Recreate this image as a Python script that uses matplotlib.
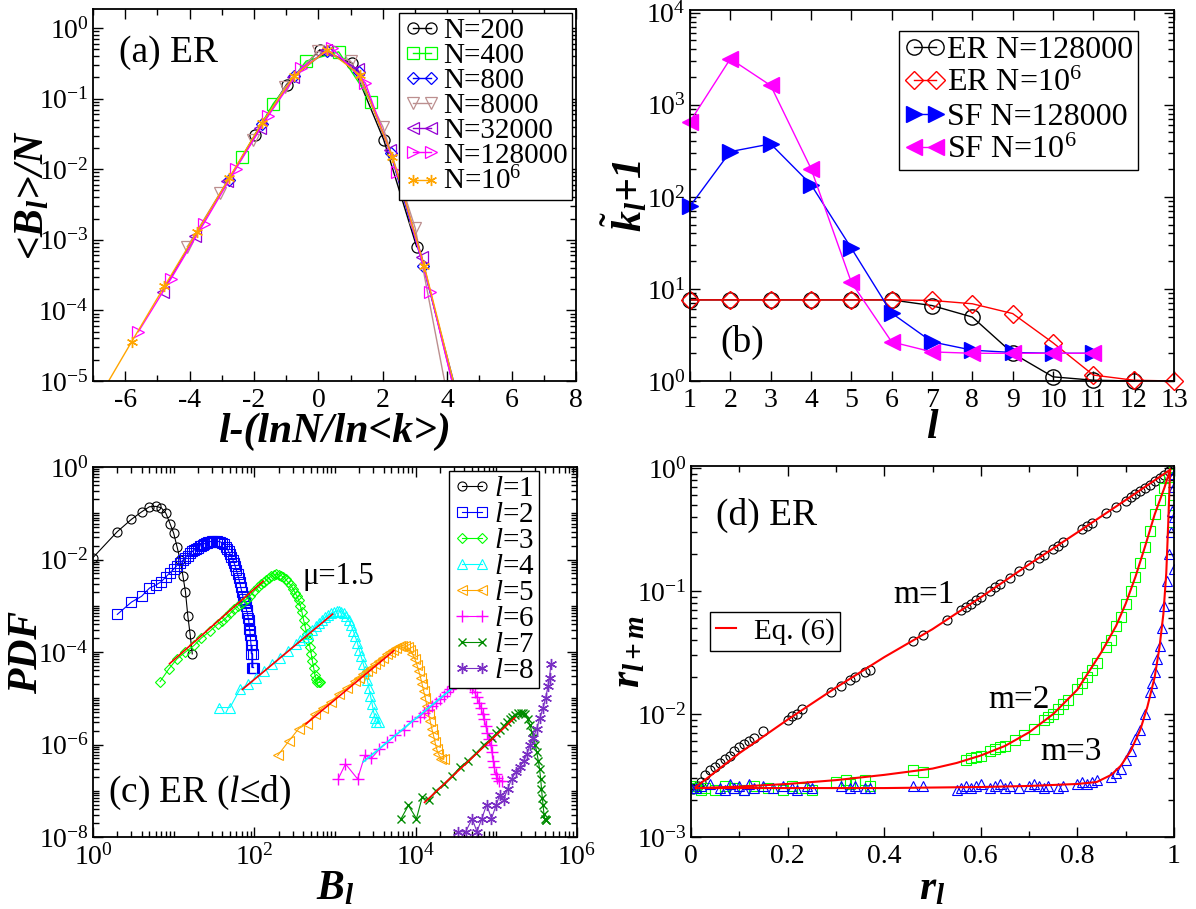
import numpy as np
import matplotlib
matplotlib.use("Agg")
import matplotlib.pyplot as plt
from matplotlib import font_manager as fm
from matplotlib.ticker import FixedLocator, FuncFormatter, MultipleLocator, NullFormatter

# pick a Times-like serif that is actually installed
have = {f.name for f in fm.fontManager.ttflist}
SERIF = 'DejaVu Serif'
for cand in ['Liberation Serif', 'Tinos', 'Times New Roman', 'Nimbus Roman', 'TeX Gyre Termes',
             'STIX Two Text', 'Noto Serif']:
    if cand in have:
        SERIF = cand
        break

plt.rcParams['font.family'] = SERIF
plt.rcParams['mathtext.fontset'] = 'custom'
plt.rcParams['mathtext.rm'] = SERIF
plt.rcParams['mathtext.it'] = SERIF + ':italic'
plt.rcParams['mathtext.bf'] = SERIF + ':bold'
try:
    plt.rcParams['mathtext.bfit'] = SERIF + ':bold:italic'
except KeyError:
    pass
plt.rcParams['axes.unicode_minus'] = False

# ---------------- data: panel (a) ----------------
x_N200 = [-1.97, -0.99, 0.04, 1.04, 2.03, 3.05]
y_N200 = [3.1e-2, 1.58e-1, 4.9e-1, 3.2e-1, 2.6e-2, 8.0e-4]
x_N400 = [-2.37, -1.40, -0.38, 0.63, 1.64]
y_N400 = [1.5e-2, 8.5e-2, 3.4e-1, 4.6e-1, 9.1e-2]
x_N800 = [-2.79, -1.76, -0.75, 0.26, 1.26, 2.24, 3.25, 4.25]
y_N800 = [7.0e-3, 4.4e-2, 2.1e-1, 4.8e-1, 2.4e-1, 1.7e-2, 4.3e-4, 8.0e-6]
x_N8000 = [-4.07, -3.05, -2.03, -1.04, -0.02, 1.00, 2.00, 3.01, 4.01]
y_N8000 = [8.0e-4, 4.6e-3, 2.6e-2, 1.45e-1, 4.7e-1, 3.4e-1, 4.0e-2, 1.45e-3, 6.0e-6]
x_N32000 = [-4.84, -3.83, -2.83, -1.82, -0.78, 0.24, 1.22, 2.21, 3.21, 4.21]
y_N32000 = [1.85e-4, 1.14e-3, 6.7e-3, 3.8e-2, 2.0e-1, 4.9e-1, 2.6e-1, 1.9e-2, 5.8e-4, 7.8e-6]
x_N128000 = [-5.59, -4.58, -3.56, -2.57, -1.56, -0.54, 0.42, 1.46, 2.45, 3.47, 4.47]
y_N128000 = [5.0e-5, 2.8e-4, 1.7e-3, 1.0e-2, 5.7e-2, 2.7e-1, 5.2e-1, 1.66e-1, 9.0e-3, 1.85e-4, 2.5e-6]
x_N1e6 = [-6.80, -5.80, -4.78, -3.77, -2.78, -1.76, -0.75, 0.28, 1.28, 2.30, 3.29, 4.29]
y_N1e6 = [6.0e-6, 3.6e-5, 2.2e-4, 1.29e-3, 7.4e-3, 4.5e-2, 2.11e-1, 4.9e-1, 2.18e-1, 1.5e-2, 4.2e-4, 6.6e-6]

# ---------------- data: panel (b) ----------------
l_er128k = [1, 2, 3, 4, 5, 6, 7, 8, 9, 10, 11, 12]
k_er128k = [7.6, 7.6, 7.6, 7.6, 7.6, 7.6, 6.6, 4.95, 2.0, 1.11, 1.02, 1.0]
l_er1m = [1, 2, 3, 4, 5, 6, 7, 8, 9, 10, 11, 12, 13]
k_er1m = [7.6, 7.6, 7.6, 7.6, 7.6, 7.6, 7.5, 6.9, 5.4, 2.6, 1.16, 1.02, 1.0]
l_sf128k = [1, 2, 3, 4, 5, 6, 7, 8, 9, 10, 11]
k_sf128k = [79, 310, 376, 136, 27.7, 5.46, 2.66, 2.16, 2.04, 2.0, 2.0]
l_sf1m = [1, 2, 3, 4, 5, 6, 7, 8, 9, 10, 11]
k_sf1m = [655, 3160, 1620, 203, 11.8, 2.66, 2.07, 2.0, 2.0, 2.0, 2.0]

# ---------------- data: panel (c) ----------------
B1 = [1, 2, 3, 4, 5, 6, 7, 8, 9, 10, 11, 12, 13, 14, 15, 16, 17]
P1 = [1.1e-2, 4.0e-2, 7.4e-2, 1.07e-1, 1.38e-1, 1.41e-1, 1.32e-1, 1.0e-1, 6.0e-2, 3.7e-2,
      1.9e-2, 1.0e-2, 4.5e-3, 2.0e-3, 5.9e-4, 2.4e-4, 9.1e-5]
B2 = [2, 3, 4, 5, 6, 7, 8, 9, 10, 11, 12, 13, 14, 15, 16, 17, 18, 19, 20, 21,
      22, 23, 24, 25, 26, 27, 28, 29, 30, 32, 34, 36, 38, 40, 42, 44, 46, 48, 50, 52,
      54, 56, 58, 60, 62, 64, 66, 68, 70, 72, 74, 76, 78, 80, 82, 84, 85, 86, 87, 88,
      89, 90, 91, 92, 93, 94, 95, 96, 97, 98]
P2 = [6.5e-4, 1.2e-3, 1.6e-3, 2.4e-3, 2.8e-3, 3.3e-3, 4.2e-3, 5.2e-3, 6.2e-3, 7.4e-3,
      8.5e-3, 9.6e-3, 1.1e-2, 1.2e-2, 1.35e-2, 1.5e-2, 1.6e-2, 1.7e-2, 1.8e-2, 1.95e-2,
      2.0e-2, 2.1e-2, 2.2e-2, 2.25e-2, 2.3e-2, 2.4e-2, 2.45e-2, 2.45e-2, 2.5e-2, 2.5e-2,
      2.5e-2, 2.45e-2, 2.4e-2, 2.3e-2, 2.15e-2, 1.9e-2, 1.7e-2, 1.5e-2, 1.3e-2, 1.15e-2,
      1.0e-2, 8.5e-3, 7.1e-3, 5.8e-3, 4.8e-3, 3.9e-3, 3.2e-3, 2.5e-3, 2.0e-3, 1.6e-3,
      1.4e-3, 1.2e-3, 1.0e-3, 8.0e-4, 7.0e-4, 5.5e-4, 5.0e-4, 4.1e-4, 3.2e-4, 2.8e-4,
      2.3e-4, 1.8e-4, 1.4e-4, 9.2e-5, 1.4e-4, 4.6e-5, 9.2e-5, 4.6e-5, 4.6e-5, 4.6e-5]
B3 = [6.8, 8.7, 11, 14, 18, 22, 28, 35, 40, 45, 50, 56, 63, 71, 80, 89, 100, 112, 122, 132,
      141, 151, 162, 174, 187, 200, 214, 229, 245, 263, 282, 302, 320, 339, 355, 372, 390, 407,
      427, 447, 468, 490, 508, 525, 545, 562, 583, 603, 630, 661]
P3 = [2.3e-5, 4.3e-5, 7.1e-5, 1.0e-4, 1.4e-4, 2.0e-4, 2.8e-4, 4.0e-4, 4.6e-4, 5.6e-4,
      6.8e-4, 8.3e-4, 1.0e-3, 1.17e-3, 1.4e-3, 1.66e-3, 2.1e-3, 2.5e-3, 2.9e-3, 3.2e-3,
      3.6e-3, 4.0e-3, 4.4e-3, 4.7e-3, 4.8e-3, 4.7e-3, 4.5e-3, 4.2e-3, 3.7e-3, 3.2e-3,
      2.8e-3, 2.3e-3, 1.9e-3, 1.6e-3, 1.3e-3, 1.0e-3, 7.2e-4, 5.0e-4, 3.5e-4, 2.5e-4,
      1.8e-4, 1.26e-4, 9.0e-5, 6.3e-5, 4.5e-5, 3.2e-5, 2.6e-5, 2.2e-5, 2.2e-5, 2.2e-5]
B4 = [36, 50, 66, 83, 105, 132, 166, 209, 263, 331, 372, 417, 468, 525, 575, 631, 690, 759,
      820, 891, 970, 1047, 1120, 1202, 1290, 1380, 1480, 1585, 1680, 1778, 1890, 1995, 2110,
      2239, 2370, 2512, 2630, 2754, 2890, 3020, 3130, 3236, 3467]
P4 = [6.3e-6, 6.3e-6, 1.55e-5, 2.0e-5, 2.8e-5, 3.8e-5, 5.4e-5, 7.6e-5, 1.07e-4, 1.5e-4,
      1.8e-4, 2.1e-4, 2.5e-4, 3.0e-4, 3.6e-4, 4.2e-4, 4.9e-4, 5.6e-4, 6.2e-4, 6.8e-4,
      7.3e-4, 7.6e-4, 7.7e-4, 7.4e-4, 6.8e-4, 6.0e-4, 4.9e-4, 3.8e-4, 2.9e-4, 2.2e-4,
      1.6e-4, 1.12e-4, 8.0e-5, 5.6e-5, 3.8e-5, 2.5e-5, 1.7e-5, 1.12e-5, 7.5e-6, 5.0e-6,
      3.8e-6, 3.0e-6, 3.0e-6]
B5 = [195, 269, 355, 447, 562, 708, 891, 1122, 1413, 1778, 2000, 2239, 2520, 2818, 3160, 3548,
      3950, 4365, 4800, 5248, 5750, 6310, 6850, 7413, 7950, 8511, 9100, 9772, 10400, 10965,
      11500, 12023, 12600, 13183, 13800, 14454, 15150, 15849, 16600, 17378, 18200, 19055,
      20893, 22387]
P5 = [5.8e-7, 1.2e-6, 2.2e-6, 2.8e-6, 4.5e-6, 6.3e-6, 8.3e-6, 1.26e-5, 1.66e-5, 2.4e-5,
      2.8e-5, 3.3e-5, 3.9e-5, 4.5e-5, 5.4e-5, 6.3e-5, 7.6e-5, 8.9e-5, 1.0e-4, 1.12e-4,
      1.23e-4, 1.32e-4, 1.36e-4, 1.35e-4, 1.26e-4, 1.12e-4, 9.2e-5, 7.1e-5, 5.2e-5, 3.8e-5,
      2.8e-5, 2.0e-5, 1.4e-5, 1.0e-5, 6.8e-6, 4.5e-6, 3.2e-6, 2.2e-6, 1.6e-6, 1.12e-6,
      8.0e-7, 6.3e-7, 4.9e-7, 4.9e-7]
B6 = [1096, 1349, 1905, 2344, 2818, 3548, 4467, 5623, 7079, 8913, 11220, 12600, 14125, 15850,
      17783, 20000, 22387, 24500, 26915, 29200, 31623, 34300, 37154, 40300, 43652, 46800,
      50119, 53700, 57544, 61000, 64565, 67600, 70795, 74100, 77625, 81300, 85114, 88100,
      91201, 94400, 97724, 102000, 107152, 117490]
P6 = [1.8e-7, 3.8e-7, 1.8e-7, 5.8e-7, 5.0e-7, 7.9e-7, 1.12e-6, 1.6e-6, 2.1e-6, 3.2e-6,
      4.0e-6, 4.8e-6, 5.6e-6, 6.8e-6, 7.9e-6, 9.5e-6, 1.12e-5, 1.35e-5, 1.6e-5, 1.85e-5,
      2.1e-5, 2.25e-5, 2.3e-5, 2.3e-5, 2.2e-5, 1.95e-5, 1.66e-5, 1.35e-5, 1.05e-5, 8.0e-6,
      6.3e-6, 4.6e-6, 3.5e-6, 2.5e-6, 1.8e-6, 1.3e-6, 1.0e-6, 7.0e-7, 4.5e-7, 3.2e-7,
      2.3e-7, 1.9e-7, 1.66e-7, 1.66e-7]
B7 = [6607, 8128, 10233, 12023, 14454, 17783, 22387, 28184, 35481, 44668, 56234, 70795, 89125,
      100000, 112202, 123000, 134896, 146000, 158489, 172000, 186209, 200000, 213796, 229000,
      245471, 260000, 275423, 288000, 301995, 316000, 331131, 343000, 354813, 363000, 371535,
      380000, 389045, 398000, 407380, 416869]
P7 = [2.5e-8, 4.8e-8, 2.5e-8, 7.2e-8, 6.3e-8, 1.0e-7, 1.4e-7, 2.1e-7, 3.2e-7, 4.5e-7,
      6.6e-7, 1.0e-6, 1.4e-6, 1.75e-6, 2.1e-6, 2.5e-6, 3.0e-6, 3.5e-6, 4.0e-6, 4.4e-6,
      4.8e-6, 4.9e-6, 4.9e-6, 4.5e-6, 3.5e-6, 2.7e-6, 1.9e-6, 1.4e-6, 1.0e-6, 7.0e-7,
      4.5e-7, 3.0e-7, 1.8e-7, 1.1e-7, 7.1e-8, 4.8e-8, 3.2e-8, 2.5e-8, 2.3e-8, 2.3e-8]
B8 = [33884, 41687, 50119, 57544, 66069, 75858, 87096, 100000, 109648, 123027, 138038, 154882,
      173780, 194984, 218776, 239883, 263027, 288403, 316228, 346737, 380189, 407380, 436516,
      457088, 473151]
P8 = [1.3e-8, 1.3e-8, 2.5e-8, 1.3e-8, 2.5e-8, 5.0e-8, 2.5e-8, 5.0e-8, 7.9e-8, 6.3e-8, 1.1e-7,
      1.8e-7, 2.5e-7, 3.2e-7, 4.5e-7, 6.3e-7, 1.0e-6, 1.4e-6, 2.2e-6, 3.8e-6, 6.3e-6, 1.0e-5,
      1.8e-5, 2.8e-5, 5.4e-5]
# power-law fits (mu = 1.5): start and end of each fitted segment
fit_B0 = [8.9, 71, 437, 2239, 12882]
fit_P0 = [5.6e-5, 1.55e-5, 2.8e-6, 4.2e-7, 5.6e-8]
fit_B1 = [129, 933, 5370, 30903, 169824]
fit_P1 = [3.4e-3, 6.6e-4, 1.07e-4, 1.86e-5, 3.8e-6]
fit_colors = ['red', 'red', 'red', 'cyan', 'red']

# ---------------- data: panel (d) ----------------
r1_x = [0.005, 0.01, 0.015, 0.02, 0.03, 0.04, 0.05, 0.06, 0.07, 0.08, 0.09, 0.10, 0.11, 0.12,
        0.13, 0.15, 0.20, 0.21, 0.22, 0.23, 0.29, 0.31, 0.33, 0.34, 0.36, 0.37, 0.46, 0.48, 0.53,
        0.56, 0.57, 0.58, 0.59, 0.60, 0.62, 0.63, 0.64, 0.66, 0.68, 0.70, 0.72, 0.73, 0.75, 0.76,
        0.77, 0.81, 0.82, 0.83, 0.86, 0.88, 0.90, 0.91, 0.92, 0.93, 0.94, 0.95, 0.96, 0.97, 0.98,
        0.99]
r1_y = [2.47e-3, 2.55e-3, 2.6e-3, 2.8e-3, 3.2e-3, 3.5e-3, 3.7e-3, 4.0e-3, 4.3e-3, 4.6e-3, 5.0e-3,
        5.4e-3, 5.7e-3, 6.0e-3, 6.4e-3, 7.3e-3, 8.9e-3, 9.6e-3, 1.0e-2, 1.1e-2, 1.5e-2, 1.7e-2,
        1.9e-2, 2.0e-2, 2.2e-2, 2.3e-2, 3.9e-2, 4.4e-2, 5.8e-2, 7.0e-2, 7.4e-2, 7.9e-2, 8.4e-2,
        9.0e-2, 1.0e-1, 1.07e-1, 1.14e-1, 1.28e-1, 1.45e-1, 1.63e-1, 1.84e-1, 1.95e-1, 2.2e-1,
        2.33e-1, 2.5e-1, 3.2e-1, 3.4e-1, 3.6e-1, 4.3e-1, 4.8e-1, 5.4e-1, 5.8e-1, 6.1e-1, 6.5e-1,
        6.9e-1, 7.3e-1, 7.8e-1, 8.3e-1, 8.8e-1, 9.4e-1]
r2_x = [0.0, 0.005, 0.01, 0.02, 0.03, 0.05, 0.07, 0.09, 0.11, 0.13, 0.16, 0.19, 0.21, 0.23, 0.25,
        0.30, 0.32, 0.33, 0.34, 0.36, 0.37, 0.46, 0.48, 0.57, 0.58, 0.59, 0.60, 0.62, 0.63, 0.64,
        0.65, 0.67, 0.69, 0.71, 0.73, 0.74, 0.75, 0.76, 0.77, 0.78, 0.80, 0.81, 0.82, 0.83, 0.84,
        0.86, 0.87, 0.88, 0.89, 0.90, 0.91, 0.92, 0.93, 0.94, 0.95, 0.96, 0.97, 0.98, 0.99, 1.0,
        0.995, 0.998, 1.0, 1.0]
r2_y = [2.6e-3, 2.5e-3, 2.5e-3, 2.4e-3, 2.5e-3, 2.4e-3, 2.6e-3, 2.5e-3, 2.4e-3, 2.6e-3, 2.5e-3,
        2.4e-3, 2.6e-3, 2.5e-3, 2.4e-3, 2.8e-3, 2.9e-3, 2.7e-3, 2.8e-3, 2.9e-3, 2.6e-3, 3.5e-3,
        3.4e-3, 4.2e-3, 4.4e-3, 4.5e-3, 4.6e-3, 5.0e-3, 5.2e-3, 5.4e-3, 5.5e-3, 6.2e-3, 6.8e-3,
        7.6e-3, 9.0e-3, 9.5e-3, 1.0e-2, 1.1e-2, 1.2e-2, 1.3e-2, 1.6e-2, 1.8e-2, 2.0e-2, 2.3e-2,
        2.6e-2, 3.5e-2, 4.0e-2, 5.2e-2, 6.2e-2, 7.9e-2, 0.10, 0.13, 0.17, 0.23, 0.31, 0.42, 0.55,
        0.69, 0.85, 1.0, 0.3, 0.5, 0.7, 0.9]
r3_x = [0.0, 0.01, 0.02, 0.04, 0.06, 0.07, 0.08, 0.09, 0.10, 0.11, 0.12, 0.13, 0.15, 0.17, 0.19,
        0.21, 0.22, 0.24, 0.25, 0.31, 0.33, 0.34, 0.36, 0.37, 0.46, 0.48, 0.55, 0.56, 0.57, 0.58,
        0.59, 0.60, 0.62, 0.63, 0.64, 0.65, 0.66, 0.68, 0.70, 0.71, 0.72, 0.73, 0.74, 0.76, 0.77,
        0.80, 0.81, 0.82, 0.83, 0.84, 0.87, 0.88, 0.89, 0.90, 0.91, 0.92, 0.93, 0.94, 0.95, 0.955,
        0.96, 0.965, 0.97, 0.975, 0.98, 0.985, 0.99, 0.993, 0.996, 1.0, 1.0, 1.0, 1.0]
r3_y = [2.5e-3, 2.5e-3, 2.6e-3, 2.7e-3, 2.5e-3, 2.4e-3, 2.7e-3, 2.5e-3, 2.6e-3, 2.4e-3, 2.7e-3,
        2.5e-3, 2.6e-3, 2.5e-3, 2.6e-3, 2.5e-3, 2.4e-3, 2.6e-3, 2.5e-3, 2.6e-3, 2.5e-3, 2.6e-3,
        2.5e-3, 2.5e-3, 2.6e-3, 2.6e-3, 2.4e-3, 2.5e-3, 2.6e-3, 2.5e-3, 2.6e-3, 2.7e-3, 2.5e-3,
        2.6e-3, 2.7e-3, 2.5e-3, 2.6e-3, 2.5e-3, 2.6e-3, 2.7e-3, 2.6e-3, 2.5e-3, 2.6e-3, 2.5e-3,
        2.6e-3, 2.7e-3, 2.8e-3, 2.7e-3, 2.8e-3, 2.9e-3, 3.1e-3, 3.3e-3, 3.6e-3, 4.2e-3, 5.0e-3,
        6.3e-3, 7.4e-3, 1.0e-2, 1.5e-2, 1.8e-2, 2.2e-2, 2.8e-2, 3.6e-2, 5.0e-2, 7.6e-2, 0.12, 0.2,
        0.3, 0.45, 0.7, 0.15, 0.4, 0.9]
# Eq. (6) curves
eq1_x = [0.01, 0.1, 0.2, 0.3, 0.4, 0.5, 0.6, 0.7, 0.8, 0.9, 0.992]
eq1_y = [2.55e-3, 4.8e-3, 9.0e-3, 1.64e-2, 2.9e-2, 4.9e-2, 8.9e-2, 1.65e-1, 3.0e-1, 5.5e-1, 9.7e-1]
eq2_x = [0.01, 0.1, 0.2, 0.3, 0.4, 0.5, 0.55, 0.6, 0.65, 0.7, 0.75, 0.8, 0.85, 0.88, 0.9, 0.92,
         0.94, 0.96, 0.98, 0.992]
eq2_y = [2.5e-3, 2.57e-3, 2.7e-3, 2.9e-3, 3.2e-3, 3.6e-3, 4.0e-3, 4.6e-3, 5.5e-3, 7.1e-3, 1.0e-2,
         1.58e-2, 3.2e-2, 5.2e-2, 7.9e-2, 1.3e-1, 2.3e-1, 4.2e-1, 6.9e-1, 9.7e-1]
eq3_x = [0.01, 0.2, 0.4, 0.6, 0.7, 0.8, 0.84, 0.87, 0.89, 0.91, 0.93, 0.945, 0.96, 0.97, 0.978,
         0.984, 0.988, 0.992]
eq3_y = [2.5e-3, 2.5e-3, 2.5e-3, 2.55e-3, 2.6e-3, 2.7e-3, 2.8e-3, 3.2e-3, 3.8e-3, 5.0e-3, 7.4e-3,
         1.15e-2, 2.0e-2, 3.5e-2, 6.5e-2, 1.4e-1, 3.5e-1, 9.7e-1]

# ---------------- figure ----------------
W, H = 1196, 909
fig = plt.figure(figsize=(W / 100, H / 100), dpi=100)
ax_a = fig.add_axes([93 / W, 1 - 381 / H, 483 / W, 372 / H])
ax_b = fig.add_axes([690 / W, 1 - 381 / H, 484 / W, 371 / H])
ax_c = fig.add_axes([93 / W, 1 - 837 / H, 484 / W, 370 / H])
ax_d = fig.add_axes([691 / W, 1 - 837 / H, 483 / W, 371 / H])

TICK = 20
LABEL = 30
LEG = 21


def pow_fmt(v, pos):
    return r'$\mathdefault{10^{%d}}$' % int(round(np.log10(v)))


def log_axis(axis, lo, hi, step):
    majors = [10.0 ** e for e in range(lo, hi + 1, step)]
    minors = [s * 10.0 ** e for e in range(lo, hi) for s in range(1, 10)
              if not (s == 1 and (e - lo) % step == 0)]
    axis.set_major_locator(FixedLocator(majors))
    axis.set_minor_locator(FixedLocator(minors))
    axis.set_major_formatter(FuncFormatter(pow_fmt))
    axis.set_minor_formatter(NullFormatter())


def style(ax):
    ax.tick_params(which='both', direction='in', top=True, right=True, labelsize=TICK)
    ax.tick_params(which='major', length=7, width=1)
    ax.tick_params(which='minor', length=4, width=1)
    ax.tick_params(axis='x', pad=5)
    ax.tick_params(axis='y', pad=3)
    for s in ax.spines.values():
        s.set_linewidth(1.3)


def legend(ax, **kw):
    lg = ax.legend(frameon=True, fancybox=False, edgecolor='black', framealpha=1,
                   borderaxespad=0, **kw)
    lg.get_frame().set_linewidth(1.0)
    return lg


lab = dict(fontsize=LABEL, fontweight='bold', fontstyle='italic')

# ---------------- panel (a) ----------------
mk = dict(lw=1, ms=8, mfc='none', mew=0.9)
ax_a.plot(x_N200, y_N200, 'o-', color='black', label='N=200', **mk)
ax_a.plot(x_N400, y_N400, 's-', color='#00ff00', label='N=400', **mk)
ax_a.plot(x_N800, y_N800, 'D-', color='blue', label='N=800', lw=1, ms=6.5, mfc='none', mew=0.9)
ax_a.plot(x_N8000, y_N8000, 'v-', color='#bc8f8f', label='N=8000', **mk)
ax_a.plot(x_N32000, y_N32000, '<-', color='#9400d3', label='N=32000', **mk)
ax_a.plot(x_N128000, y_N128000, '>-', color='magenta', label='N=128000', **mk)
ax_a.plot(x_N1e6, y_N1e6, marker=(6, 2, 0), ls='-', color='orange', label=r'N=10$^{6}$',
          lw=1, ms=8, mew=1)
ax_a.set_yscale('log')
ax_a.set_xlim(-7, 8)
ax_a.set_ylim(1e-5, 1.86)
ax_a.xaxis.set_major_locator(MultipleLocator(2))
ax_a.xaxis.set_minor_locator(MultipleLocator(1))
log_axis(ax_a.yaxis, -5, 0, 1)
style(ax_a)
ax_a.set_xlabel('l-(lnN/ln<k>)', **lab)
ax_a.set_ylabel(r'<B$_{\mathbfit{l}}$>/N', **lab)
ax_a.xaxis.set_label_coords(0.5, -0.085)
ax_a.yaxis.set_label_coords(-0.085, 0.5)
ax_a.text(0.054, 0.882, '(a) ER', transform=ax_a.transAxes, fontsize=27, va='center')
legend(ax_a, loc='upper right', bbox_to_anchor=(0.992, 0.989), fontsize=LEG, numpoints=2,
       labelspacing=-0.05, handlelength=1.25, handletextpad=0.1, borderpad=0.15)

# ---------------- panel (b) ----------------
ax_b.plot(l_er128k, k_er128k, 'o-', color='black', lw=1, ms=11, mfc='none', mew=1,
          label='ER N=128000', clip_on=False)
ax_b.plot(l_er1m, k_er1m, 'D-', color='red', lw=1, ms=9, mfc='none', mew=1,
          label=r'ER N=10$^{6}$', clip_on=False)
ax_b.plot(l_sf128k, k_sf128k, '>-', color='blue', lw=1, ms=11, mew=1,
          label='SF N=128000', clip_on=False)
ax_b.plot(l_sf1m, k_sf1m, '<-', color='magenta', lw=1, ms=11, mew=1,
          label=r'SF N=10$^{6}$', clip_on=False)
ax_b.set_yscale('log')
ax_b.set_xlim(1, 13)
ax_b.set_ylim(1, 1.07e4)
ax_b.xaxis.set_major_locator(MultipleLocator(1))
log_axis(ax_b.yaxis, 0, 4, 1)
style(ax_b)
ax_b.set_xlabel('l', **lab)
ax_b.set_ylabel(r'$\tilde{\mathbfit{k}}_{\mathbfit{l}}$+1', **lab)
ax_b.xaxis.set_label_coords(0.5, -0.075)
ax_b.yaxis.set_label_coords(-0.081, 0.5)
ax_b.text(0.062, 0.105, '(b)', transform=ax_b.transAxes, fontsize=27, va='center')
legend(ax_b, loc='upper right', bbox_to_anchor=(0.926, 0.943), fontsize=23, numpoints=2,
       labelspacing=0.12, handlelength=1.3, handletextpad=0.05, borderpad=0.15)

# ---------------- panel (c) ----------------
mc = dict(lw=0.8, ms=6.5, mfc='none', mew=0.8)
ax_c.plot(B1, P1, 'o-', color='black', label='$l$=1', **mc)
ax_c.plot(B2, P2, 's-', color='blue', label='$l$=2', **mc)
ax_c.plot(B3, P3, 'D-', color='#00ff00', label='$l$=3', lw=0.8, ms=5.5, mfc='none', mew=0.8)
ax_c.plot(B4, P4, '^-', color='cyan', label='$l$=4', **mc)
ax_c.plot(B5, P5, '<-', color='orange', label='$l$=5', **mc)
ax_c.plot(B6, P6, '+-', color='magenta', label='$l$=6', lw=0.8, ms=8, mew=1)
ax_c.plot(B7, P7, 'x-', color='#008b00', label='$l$=7', lw=0.8, ms=6, mew=1)
ax_c.plot(B8, P8, marker=(6, 2, 0), ls='-', color='#7a2fc4', label='$l$=8', lw=0.8, ms=8, mew=1)
for b0, p0, b1, p1, c in zip(fit_B0, fit_P0, fit_B1, fit_P1, fit_colors):
    ax_c.plot([b0, b1], [p0, p1], '-', color=c, lw=1.2)
ax_c.set_xscale('log')
ax_c.set_yscale('log')
ax_c.set_xlim(1, 1e6)
ax_c.set_ylim(1e-8, 1)
log_axis(ax_c.xaxis, 0, 6, 2)
log_axis(ax_c.yaxis, -8, 0, 2)
style(ax_c)
ax_c.set_xlabel(r'B$_{\mathbfit{l}}$', **lab)
ax_c.set_ylabel('PDF', **lab)
ax_c.xaxis.set_label_coords(0.5, -0.09)
ax_c.yaxis.set_label_coords(-0.097, 0.5)
ax_c.text(0.031, 0.119, r'(c) ER ($l$≤d)', transform=ax_c.transAxes, fontsize=27, va='center')
ax_c.text(0.432, 0.703, 'μ=1.5', transform=ax_c.transAxes, fontsize=22, va='center')
legend(ax_c, loc='upper right', bbox_to_anchor=(0.9215, 0.989), fontsize=LEG, numpoints=2,
       labelspacing=-0.015, handlelength=1.3, handletextpad=0.1, borderpad=0.15)

# ---------------- panel (d) ----------------
md = dict(ls='none', ms=6.5, mfc='none', mew=0.8)
ax_d.plot(r1_x, r1_y, 'o', color='black', **md)
ax_d.plot(r2_x, r2_y, 's', color='#00ff00', **md)
ax_d.plot(r3_x, r3_y, '^', color='blue', **md)
ax_d.plot(eq1_x, eq1_y, '-', color='red', lw=1.5, label='Eq. (6)')
ax_d.plot(eq2_x, eq2_y, '-', color='red', lw=1.5)
ax_d.plot(eq3_x, eq3_y, '-', color='red', lw=1.5)
ax_d.set_yscale('log')
ax_d.set_xlim(0, 1)
ax_d.set_ylim(1e-3, 1.04)
ax_d.xaxis.set_major_locator(MultipleLocator(0.2))
ax_d.xaxis.set_minor_locator(MultipleLocator(0.1))
ax_d.xaxis.set_major_formatter(FuncFormatter(lambda v, p: '%g' % round(v, 2)))
log_axis(ax_d.yaxis, -3, 0, 1)
style(ax_d)
ax_d.set_xlabel(r'r$_{\mathbfit{l}}$', **lab)
ax_d.set_ylabel(r'r$_{\mathbfit{l+m}}$', **lab)
ax_d.xaxis.set_label_coords(0.5, -0.09)
ax_d.yaxis.set_label_coords(-0.089, 0.5)
ax_d.text(0.052, 0.868, '(d) ER', transform=ax_d.transAxes, fontsize=27, va='center')
ax_d.text(0.418, 0.652, 'm=1', transform=ax_d.transAxes, fontsize=24, va='center')
ax_d.text(0.615, 0.369, 'm=2', transform=ax_d.transAxes, fontsize=24, va='center')
ax_d.text(0.723, 0.229, 'm=3', transform=ax_d.transAxes, fontsize=24, va='center')
legend(ax_d, loc='upper left', bbox_to_anchor=(0.039, 0.606), fontsize=LEG,
       handlelength=0.7, handletextpad=0.6, borderpad=0.2)

fig.savefig('out.png', dpi=100)
